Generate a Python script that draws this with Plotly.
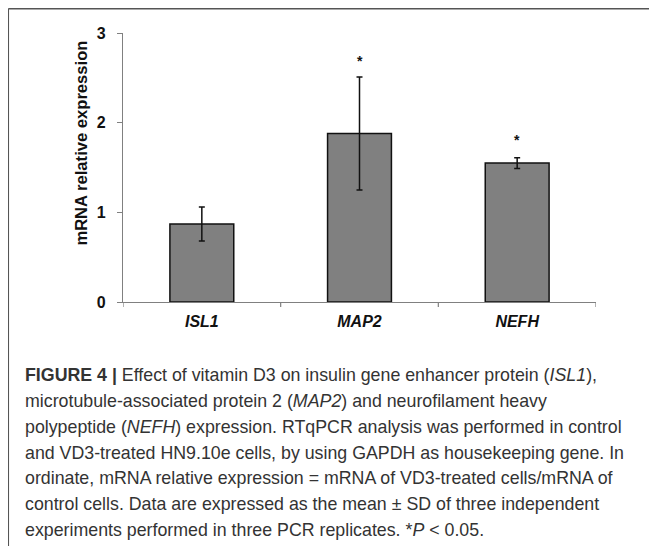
import plotly.graph_objects as go

genes = ["ISL1", "MAP2", "NEFH"]
means = [0.87, 1.88, 1.55]
sds = [0.19, 0.63, 0.06]
star_y = [None, 2.69, 1.81]
y_ticks = [0, 1, 2, 3]

caption_lines = [
    "<b>FIGURE 4 |</b> Effect of vitamin D3 on insulin gene enhancer protein (<i>ISL1</i>),",
    "microtubule-associated protein 2 (<i>MAP2</i>) and neurofilament heavy",
    "polypeptide (<i>NEFH</i>) expression. RTqPCR analysis was performed in control",
    "and VD3-treated HN9.10e cells, by using GAPDH as housekeeping gene. In",
    "ordinate, mRNA relative expression = mRNA of VD3-treated cells/mRNA of",
    "control cells. Data are expressed as the mean \u00b1 SD of three independent",
    "experiments performed in three PCR replicates. *<i>P</i> &lt; 0.05.",
]

W, H = 657, 546
OFF = 8  # browser body margin
L, R, T, B = 122.7 - OFF, 595.7 - OFF, 33.3 - OFF, 302.0 - OFF

def px(x):
    return (x - OFF - L) / (R - L)

def py(y):
    return (B - (y - OFF)) / (B - T)

FONT = "Liberation Sans, Arial, sans-serif"
INK = "#111111"

fig = go.Figure()
fig.add_trace(go.Bar(
    x=genes, y=means,
    marker=dict(color="#808080", line=dict(color=INK, width=1.5)),
    error_y=dict(type="data", array=sds, visible=True, color=INK, thickness=1.5, width=3),
    width=0.405,
))

annotations = []
for g, s in zip(genes, star_y):
    if s is not None:
        annotations.append(dict(x=g, y=s, xref="x", yref="y", text="<b>*</b>", showarrow=False,
                                font=dict(family=FONT, size=14, color=INK)))

# y-axis title
annotations.append(dict(x=px(81), y=py(143.5), xref="paper", yref="paper", textangle=-90,
                        xanchor="center", yanchor="middle", showarrow=False,
                        text="<b>mRNA relative expression</b>",
                        font=dict(family=FONT, size=16.6, color=INK)))

cap_x = 23
cap_y0, cap_dy = 375, 25.8
for i, line in enumerate(caption_lines):
    annotations.append(dict(
        x=px(cap_x), y=py(cap_y0 + i * cap_dy), xref="paper", yref="paper",
        xanchor="left", yanchor="middle", align="left", showarrow=False,
        text=line, font=dict(family=FONT, size=17.8, color="#333333"),
    ))

shapes = []
for k in range(len(genes) + 1):
    shapes.append(dict(type="line", xref="x", yref="paper", x0=k - 0.5, x1=k - 0.5,
                       y0=0, y1=py(302 + 5), line=dict(color="#808080", width=1.2)))
shapes.append(dict(type="line", xref="paper", yref="paper", x0=px(8), x1=px(8), y0=py(560), y1=py(9),
                   line=dict(color="#555555", width=1.5)))
shapes.append(dict(type="line", xref="paper", yref="paper", x0=px(8), x1=px(670), y0=py(9), y1=py(9),
                   line=dict(color="#555555", width=1.5)))

fig.update_layout(
    width=W, height=H,
    margin=dict(l=L, r=W - R, t=T, b=H - B, pad=0, autoexpand=False),
    paper_bgcolor="white", plot_bgcolor="white",
    showlegend=False,
    xaxis=dict(
        showline=True, linecolor="#808080", linewidth=1.2,
        ticks="", showgrid=False, ticklabelstandoff=5,
        tickfont=dict(family=FONT, size=16, color=INK),
        tickvals=genes, ticktext=["<b><i>%s</i></b>" % g for g in genes],
        range=[-0.5, 2.5],
    ),
    yaxis=dict(
        range=[0, 3], tickvals=y_ticks, ticktext=["<b>%d</b>" % v for v in y_ticks],
        showline=True, linecolor="#808080", linewidth=1.2,
        ticks="outside", ticklen=5, tickcolor="#808080", tickwidth=1.2,
        showgrid=False, zeroline=False, ticklabelstandoff=8,
        tickfont=dict(family=FONT, size=16, color=INK),
    ),
    shapes=shapes,
    annotations=annotations,
)

fig.write_html("out.html")
